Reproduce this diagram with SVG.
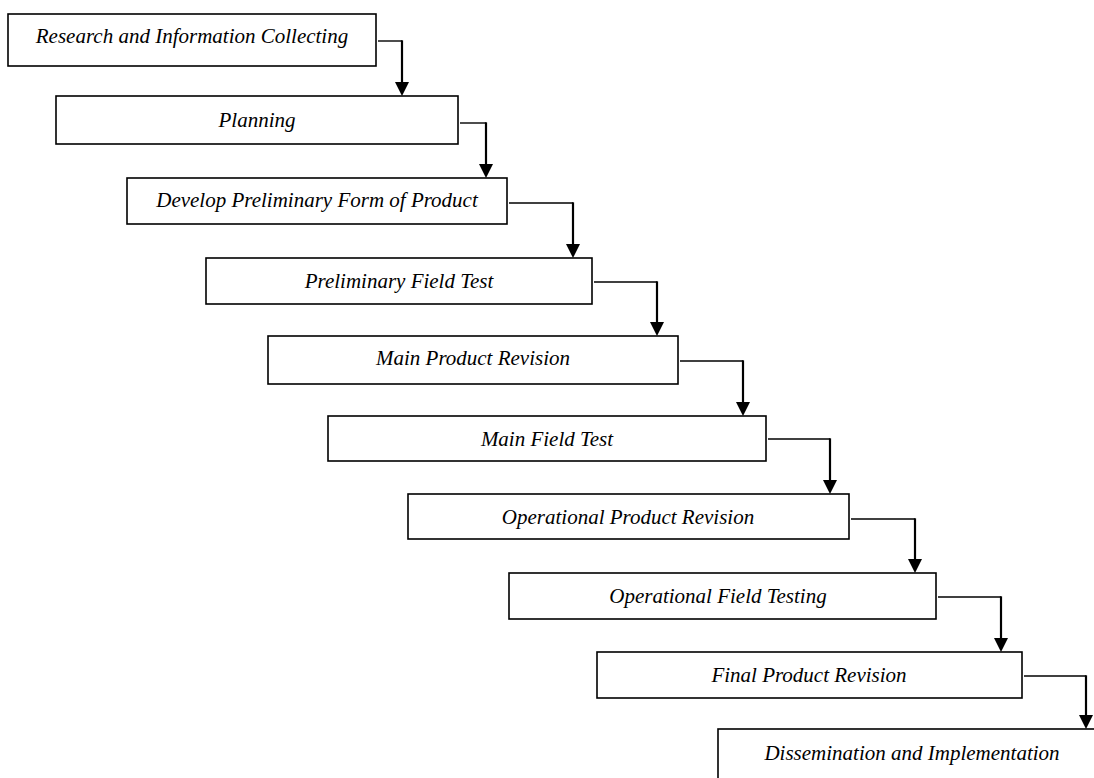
<svg xmlns="http://www.w3.org/2000/svg" width="1094" height="778" viewBox="0 0 1094 778">
<defs>
<marker id="ah" markerUnits="userSpaceOnUse" markerWidth="16" markerHeight="16" viewBox="0 0 14 14" refX="7" refY="14" orient="0">
<path d="M0,0 L14,0 L7,14 Z" fill="#000"/>
</marker>
<style>
.box{fill:#fff;stroke:#000;stroke-width:1.6}
.lbl{font-family:"Liberation Serif","Times New Roman",serif;font-style:italic;font-size:21px;fill:#000;text-anchor:middle}
.h{fill:none;stroke:#000;stroke-width:1.4}
.v{fill:none;stroke:#000;stroke-width:2.2}
</style>
</defs>
<rect width="1094" height="778" fill="#fff"/>
<g id="connectors">
<path class="h" d="M378,41 H402"/><path class="v" d="M402,40.3 V82" /><path d="M395,82 L409,82 L402,96 Z"/>
<path class="h" d="M460,123 H486"/><path class="v" d="M486,122.3 V164"/><path d="M479,164 L493,164 L486,178 Z"/>
<path class="h" d="M509,203 H573"/><path class="v" d="M573,202.3 V244"/><path d="M566,244 L580,244 L573,258 Z"/>
<path class="h" d="M594,282 H657"/><path class="v" d="M657,281.3 V322"/><path d="M650,322 L664,322 L657,336 Z"/>
<path class="h" d="M680,361 H743"/><path class="v" d="M743,360.3 V402"/><path d="M736,402 L750,402 L743,416 Z"/>
<path class="h" d="M768,439 H830"/><path class="v" d="M830,438.3 V480"/><path d="M823,480 L837,480 L830,494 Z"/>
<path class="h" d="M851,519 H915"/><path class="v" d="M915,518.3 V559"/><path d="M908,559 L922,559 L915,573 Z"/>
<path class="h" d="M938,597 H1001"/><path class="v" d="M1001,596.3 V638"/><path d="M994,638 L1008,638 L1001,652 Z"/>
<path class="h" d="M1024,676 H1086"/><path class="v" d="M1086,675.3 V715"/><path d="M1079,715 L1093,715 L1086,729 Z"/>
</g>
<g id="n1"><rect class="box" x="8" y="14" width="368" height="52"/><text class="lbl" x="192" y="43">Research and Information Collecting</text></g>
<g id="n2"><rect class="box" x="56" y="96" width="402" height="48"/><text class="lbl" x="257" y="127">Planning</text></g>
<g id="n3"><rect class="box" x="127" y="178" width="380" height="46"/><text class="lbl" x="317" y="207">Develop Preliminary Form of Product</text></g>
<g id="n4"><rect class="box" x="206" y="258" width="386" height="46"/><text class="lbl" x="399" y="288">Preliminary Field Test</text></g>
<g id="n5"><rect class="box" x="268" y="336" width="410" height="48"/><text class="lbl" x="473" y="365">Main Product Revision</text></g>
<g id="n6"><rect class="box" x="328" y="416" width="438" height="45"/><text class="lbl" x="547" y="446">Main Field Test</text></g>
<g id="n7"><rect class="box" x="408" y="494" width="441" height="45"/><text class="lbl" x="628" y="524">Operational Product Revision</text></g>
<g id="n8"><rect class="box" x="509" y="573" width="427" height="46"/><text class="lbl" x="718" y="603">Operational Field Testing</text></g>
<g id="n9"><rect class="box" x="597" y="652" width="425" height="46"/><text class="lbl" x="809" y="682">Final Product Revision</text></g>
<g id="n10"><rect class="box" x="718" y="729" width="390" height="60"/><text class="lbl" x="912" y="760">Dissemination and Implementation</text></g>
</svg>
